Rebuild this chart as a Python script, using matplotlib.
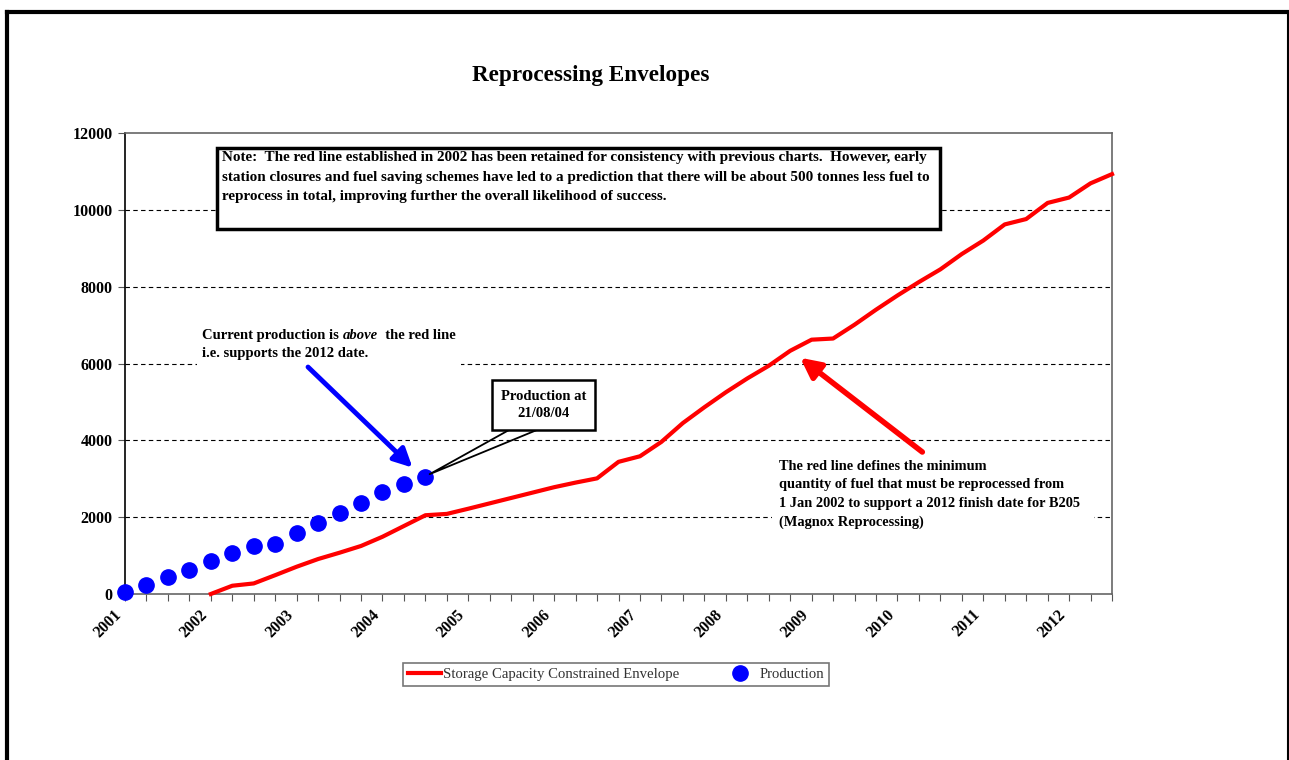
import numpy as np
import matplotlib
matplotlib.use('Agg')
import matplotlib.pyplot as plt
from matplotlib.patches import Rectangle
from matplotlib.lines import Line2D

plt.rcParams['font.family'] = ['Liberation Serif', 'DejaVu Serif']

# quarterly categories, 2001 Q1 .. 2012 Q3
years = ['2001', '2002', '2003', '2004', '2005', '2006',
         '2007', '2008', '2009', '2010', '2011', '2012']
n_quarters = 47

# production (tonnes), one value per quarter from 2001 Q1
production = [60, 235, 435, 625, 860, 1075, 1250, 1300, 1595, 1840,
              2115, 2375, 2645, 2865, 3055]

# storage capacity constrained envelope, starts 2002 Q1
env_start = 4
envelope = [0, 215, 275, 490, 710, 910, 1075, 1250, 1490, 1770,
            2050, 2085, 2220, 2360, 2500, 2640, 2780, 2900, 3010, 3440,
            3585, 3960, 4450, 4860, 5250, 5610, 5940, 6330, 6620, 6650,
            7010, 7400, 7770, 8120, 8450, 8850, 9200, 9620, 9760, 10180,
            10320, 10690, 10930]

x_prod = np.arange(len(production))
x_env = np.arange(env_start, env_start + len(envelope))

fig = plt.figure(figsize=(12.89, 7.6), dpi=100)
ax = fig.add_axes([125/1289, 1-594/760, (1112-125)/1289, (594-133)/760])

ax.plot(x_env, envelope, color='#ff0000', lw=3, zorder=4, clip_on=False,
        label='Storage Capacity Constrained Envelope')
ax.plot(x_prod, production, 'o', color='#0000ff', ms=11, zorder=5, clip_on=False,
        label='Production')

ax.set_xlim(0, n_quarters - 1)
ax.set_ylim(0, 12000)
ax.set_yticks(np.arange(0, 12001, 2000))
ax.set_xticks(np.arange(n_quarters))
ax.set_xticklabels([years[i // 4] if i % 4 == 0 else '' for i in range(n_quarters)],
                   rotation=45, ha='right', va='top', fontsize=11.5, fontweight='bold')
for lab in ax.get_yticklabels():
    lab.set_fontsize(11.5)
    lab.set_fontweight('bold')
ax.tick_params(axis='x', direction='out', length=5, color='#555555', pad=4)
ax.tick_params(axis='y', direction='out', length=5, color='#555555', pad=4)
for s in ['top', 'right', 'bottom']:
    ax.spines[s].set_color('#666666')
ax.spines['left'].set_color('black')
for s in ax.spines.values():
    s.set_linewidth(1.2)

for yv in range(2000, 12000, 2000):
    ax.axhline(yv, color='black', lw=0.8, dashes=(4, 3), zorder=1)

# note box
ax.add_patch(Rectangle((4.29, 9500), 33.7, 2110, facecolor='white', edgecolor='black',
                       lw=2.5, zorder=6))
ax.text(4.52, 11530,
        'Note:  The red line established in 2002 has been retained for consistency with previous charts.  However, early\n'
        'station closures and fuel saving schemes have led to a prediction that there will be about 500 tonnes less fuel to\n'
        'reprocess in total, improving further the overall likelihood of success.',
        fontsize=10.9, fontweight='bold', va='top', ha='left', linespacing=1.65, zorder=7)

# current production annotation
ax.add_patch(Rectangle((3.36, 5880), 12.3, 1250, facecolor='white', edgecolor='none', zorder=2))
t1 = ax.text(3.59, 6650, 'Current production is ', fontsize=10.5, fontweight='bold',
             va='baseline', ha='left', zorder=7)
t2 = ax.annotate('above', xy=(1, 0), xycoords=t1, fontsize=10.5, fontweight='bold',
                 style='italic', va='bottom', ha='left', zorder=7)
ax.annotate('  the red line', xy=(1, 0), xycoords=t2, fontsize=10.5, fontweight='bold',
            va='bottom', ha='left', zorder=7)
ax.text(3.59, 6160, 'i.e. supports the 2012 date.', fontsize=10.5, fontweight='bold',
        va='baseline', ha='left', zorder=7)
ax.annotate('', xy=(13.4, 3290), xytext=(8.53, 5908),
            arrowprops=dict(arrowstyle='-|>', color='#0000ff', lw=3.5, mutation_scale=28,
                            shrinkA=0, shrinkB=0), zorder=6)

# production callout
ax.plot([17.9, 14.2, 19.2], [4270, 3120, 4270], color='black', lw=1.3, zorder=6)
ax.add_patch(Rectangle((17.1, 4270), 4.8, 1300, facecolor='white', edgecolor='black',
                       lw=1.8, zorder=7))
ax.text(19.5, 4930, 'Production at\n21/08/04', fontsize=10.5, fontweight='bold',
        ha='center', va='center', linespacing=1.4, zorder=8)

# red line annotation
ax.add_patch(Rectangle((30.16, 1666), 15.0, 1950, facecolor='white', edgecolor='none', zorder=2))
ax.text(30.49, 3500,
        'The red line defines the minimum\n'
        'quantity of fuel that must be reprocessed from\n'
        '1 Jan 2002 to support a 2012 finish date for B205\n'
        '(Magnox Reprocessing)',
        fontsize=10.4, fontweight='bold', va='top', ha='left', linespacing=1.55, zorder=7)
ax.annotate('', xy=(31.47, 6150), xytext=(37.16, 3696),
            arrowprops=dict(arrowstyle='-|>', color='#ff0000', lw=4, mutation_scale=30,
                            shrinkA=0, shrinkB=0), zorder=6)

fig.text(591/1289, 1-76/760, 'Reprocessing Envelopes', fontsize=16.7, fontweight='bold',
         ha='center', va='center')

leg = fig.legend(loc='center', bbox_to_anchor=(616/1289, 1-674.5/760), ncol=2,
                 fontsize=10.6, frameon=True, fancybox=False, edgecolor='#555555',
                 handlelength=2.2, columnspacing=3.0, borderpad=0.35, handletextpad=0.2,
                 numpoints=1)
leg.get_frame().set_linewidth(1.2)
for t in leg.get_texts():
    t.set_color('#333333')

# outer page frame
fig.add_artist(Line2D([7/1289, 1288/1289], [1-11.5/760, 1-11.5/760], transform=fig.transFigure,
                      color='black', lw=3))
fig.add_artist(Line2D([7/1289, 7/1289], [1-11.5/760, 0], transform=fig.transFigure,
                      color='black', lw=3))
fig.add_artist(Line2D([1288/1289, 1288/1289], [1-11.5/760, 0], transform=fig.transFigure,
                      color='black', lw=1.5))

fig.savefig('out.png', dpi=100)
